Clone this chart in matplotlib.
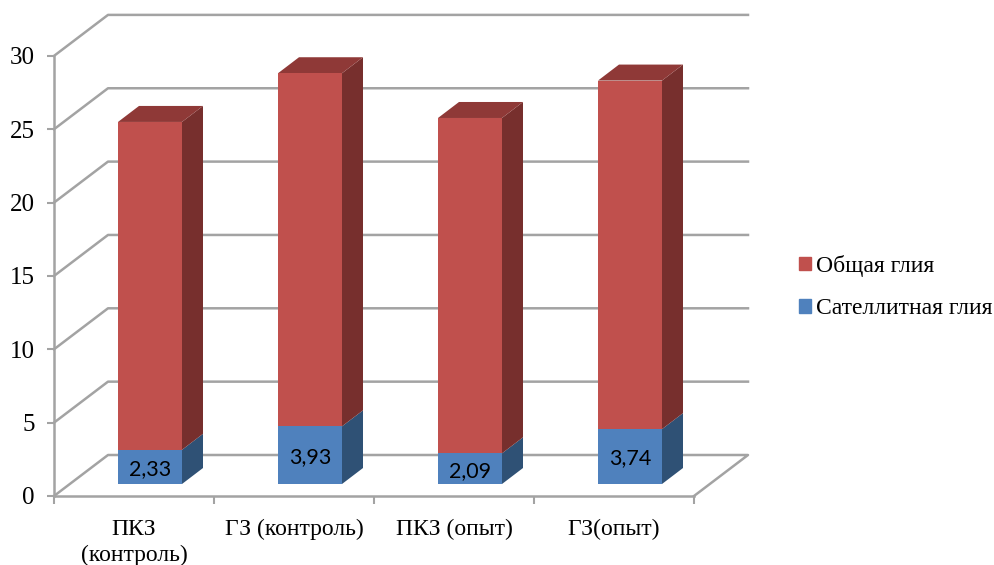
#stacked bars with a fake 3d look: front faces are normal bars, sides and tops are added as polygons
import matplotlib
matplotlib.use('Agg')
import matplotlib.pyplot as plt
from matplotlib.patches import Patch
import numpy as np

categories = ['ПКЗ\n(контроль)', 'ГЗ (контроль)', 'ПКЗ (опыт)', 'ГЗ(опыт)']
satellite = [2.33, 3.93, 2.09, 3.74]
general = [22.35, 24.07, 22.86, 23.76]
value_labels = ['2,33', '3,93', '2,09', '3,74']
y_ticks = [0, 5, 10, 15, 20, 25, 30]

W, H = 995, 565
X0, Y0 = 54, 496      #pixel position of the origin
PX_X = 160            #pixels per category
PX_Y = 14.67          #pixels per y unit

#depth directions converted to data units
wall_dx, wall_dy = 54 / PX_X, 41 / PX_Y
bar_dx, bar_dy = 21 / PX_X, 16 / PX_Y
shift_x, shift_y = 16 / PX_X, 12 / PX_Y
bar_w = 64 / PX_X

GRID = '#a3a3a3'
RED, RED_TOP, RED_SIDE = '#c0504d', '#8f3937', '#772f2d'
BLUE, BLUE_SIDE = '#4f81bd', '#2f5175'

plt.rcParams['font.family'] = ['Liberation Serif', 'DejaVu Serif']

fig = plt.figure(figsize=(W / 100, H / 100), dpi=100)
ax = fig.add_axes([0, 0, 1, 1])
ax.set_xlim(-X0 / PX_X, (W - X0) / PX_X)
ax.set_ylim(-(H - Y0) / PX_Y, Y0 / PX_Y)
ax.patch.set_visible(False)

#wall and floor lines
for v in y_ticks:
    if v == 0:
        ax.plot([0, wall_dx, 4 + wall_dx, 4], [0, wall_dy, wall_dy, 0], color=GRID, lw=1.8, zorder=1)
    else:
        ax.plot([0, wall_dx, 4 + wall_dx], [v, v + wall_dy, v + wall_dy], color=GRID, lw=1.8, zorder=1)

#axes themselves
for side in ['top', 'right']:
    ax.spines[side].set_visible(False)
ax.spines['left'].set_position(('data', 0))
ax.spines['left'].set_bounds(0, 30)
ax.spines['bottom'].set_position(('data', 0))
ax.spines['bottom'].set_bounds(0, 4)
for side in ['left', 'bottom']:
    ax.spines[side].set_color(GRID)
    ax.spines[side].set_linewidth(1.8)

ax.set_yticks(y_ticks)
ax.set_xticks(np.arange(5))
ax.set_xticklabels([])
ax.set_xticks(np.arange(4) + 0.5, minor=True)
ax.set_xticklabels(categories, minor=True, linespacing=1.3)
ax.tick_params(axis='y', length=5, width=1.5, color=GRID, labelsize=18, pad=9)
ax.tick_params(axis='x', which='major', length=5.5, width=1.5, color=GRID)
ax.tick_params(axis='x', which='minor', length=0, labelsize=17, pad=16.5)
for label in ax.get_yticklabels():
    label.set_verticalalignment('center_baseline')

def side_face(x, y1, y2, color):
    ax.fill([x, x + bar_dx, x + bar_dx, x],
            [y1, y1 + bar_dy, y2 + bar_dy, y2], color=color, lw=0, zorder=3)

x = np.arange(4) + 0.5 + shift_x
sat = np.array(satellite)
gen = np.array(general)

ax.bar(x, sat, bar_w, bottom=shift_y, color=BLUE, zorder=4)
ax.bar(x, gen, bar_w, bottom=sat + shift_y, color=RED, zorder=4)

for i in range(4):
    right = x[i] + bar_w / 2
    left = x[i] - bar_w / 2
    base = shift_y
    side_face(right, base, base + sat[i], BLUE_SIDE)
    side_face(right, base + sat[i], base + sat[i] + gen[i], RED_SIDE)
    top = base + sat[i] + gen[i]
    ax.fill([left, right, right + bar_dx, left + bar_dx],
            [top, top, top + bar_dy, top + bar_dy], color=RED_TOP, lw=0, zorder=3)
    ax.text(x[i], base + sat[i] / 2, value_labels[i], ha='center', va='center_baseline',
            family='Lato', fontsize=15.5, color='black', zorder=5)

handles = [Patch(color=RED, label='Общая глия'), Patch(color=BLUE, label='Сателлитная глия')]
ax.legend(handles=handles, loc='upper left', bbox_to_anchor=(799 / W, 1 - 255 / H), frameon=False,
          fontsize=17, handlelength=0.5, handleheight=0.5, handletextpad=0.2,
          labelspacing=0.91, borderpad=0, borderaxespad=0)

plt.savefig('out.png', dpi=100)
